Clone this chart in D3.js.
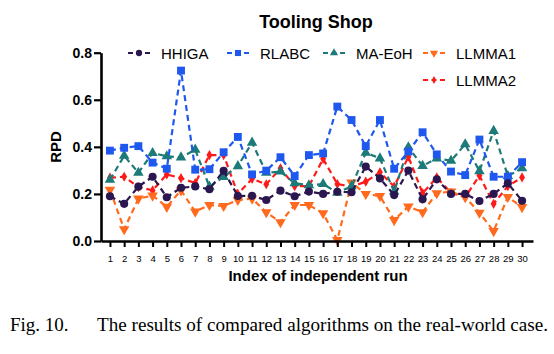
<!DOCTYPE html>
<html>
<head>
<meta charset="utf-8">
<script src="https://cdn.jsdelivr.net/npm/d3@7"></script>
<style>
	body { margin: 0; background: #fff; }
	svg { display: block; }
	text { font-family: Arial, "Liberation Sans", sans-serif; }
</style>
</head>
<body>
<div id="chart"></div>
<script>
// runs 1..30
var runs = d3.range(1, 31);

var hhiga  = [0.19, 0.158, 0.231, 0.273, 0.186, 0.226, 0.232, 0.22, 0.298, 0.191, 0.192, 0.174, 0.214, 0.19, 0.21, 0.2, 0.209, 0.207, 0.316, 0.266, 0.195, 0.299, 0.177, 0.262, 0.2, 0.2, 0.17, 0.2, 0.245, 0.171];
var rlabc  = [0.384, 0.396, 0.403, 0.333, 0.307, 0.724, 0.303, 0.305, 0.377, 0.442, 0.283, 0.299, 0.356, 0.276, 0.365, 0.372, 0.571, 0.514, 0.403, 0.514, 0.307, 0.38, 0.462, 0.368, 0.295, 0.28, 0.431, 0.273, 0.273, 0.335];
var maeoh  = [0.26, 0.362, 0.29, 0.374, 0.36, 0.355, 0.388, 0.231, 0.272, 0.318, 0.418, 0.29, 0.295, 0.245, 0.237, 0.242, 0.205, 0.232, 0.375, 0.351, 0.21, 0.398, 0.319, 0.351, 0.341, 0.411, 0.297, 0.468, 0.276, 0.309];
var llmma1 = [0.218, 0.05, 0.18, 0.193, 0.145, 0.215, 0.125, 0.153, 0.149, 0.174, 0.18, 0.122, 0.08, 0.153, 0.153, 0.118, 0.004, 0.248, 0.2, 0.191, 0.089, 0.146, 0.122, 0.203, 0.21, 0.186, 0.12, 0.042, 0.187, 0.144];
var llmma2 = [0.269, 0.273, 0.229, 0.215, 0.283, 0.267, 0.246, 0.365, 0.365, 0.2, 0.264, 0.241, 0.309, 0.233, 0.233, 0.349, 0.242, 0.231, 0.252, 0.292, 0.231, 0.358, 0.203, 0.27, 0.205, 0.186, 0.278, 0.158, 0.233, 0.27];

var seriesNames = ['HHIGA', 'RLABC', 'MA-EoH', 'LLMMA1', 'LLMMA2'];
var yTicks = [0, 0.2, 0.4, 0.6, 0.8];

var series = [
	{name: 'HHIGA',  values: hhiga,  color: '#2b1750', symbol: d3.symbolCircle,   size: 52, rot: 0},
	{name: 'RLABC',  values: rlabc,  color: '#1f58ee', symbol: d3.symbolSquare,   size: 62, rot: 0},
	{name: 'MA-EoH', values: maeoh,  color: '#1c7a78', symbol: d3.symbolTriangle, size: 48, rot: 0},
	{name: 'LLMMA1', values: llmma1, color: '#ff6a1f', symbol: d3.symbolTriangle, size: 48, rot: 180},
	{name: 'LLMMA2', values: llmma2, color: '#ff1a1a', symbol: d3.symbolDiamond,  size: 30, rot: 0}
];

var W = 554, H = 354;
var svg = d3.select('#chart').append('svg').attr('width', W).attr('height', H);

var x = d3.scaleLinear().domain([0.37, 30.77]).range([101, 533]);
var y = d3.scaleLinear().domain([0, 0.8]).range([241, 52.7]);

// title
svg.append('text')
	.attr('x', 316).attr('y', 28)
	.attr('text-anchor', 'middle')
	.style('font-size', '18px').style('font-weight', 'bold')
	.text('Tooling Shop');

// lines + markers (HHIGA drawn last so it sits on top)
var line = d3.line()
	.x(function(d, i) { return x(runs[i]); })
	.y(function(d) { return y(d); });

series.slice().reverse().forEach(function(s) {
	var g = svg.append('g');
	g.append('path')
		.attr('d', line(s.values))
		.attr('fill', 'none')
		.attr('stroke', s.color)
		.attr('stroke-width', 2.2)
		.attr('stroke-dasharray', '6,4');
	g.selectAll('path.pt')
		.data(s.values)
		.enter().append('path')
		.attr('class', 'pt')
		.attr('d', d3.symbol().type(s.symbol).size(s.size))
		.attr('fill', s.color)
		.attr('transform', function(d, i) {
			return 'translate(' + x(runs[i]) + ',' + y(d) + ') rotate(' + s.rot + ')';
		});
});

// axes
var yAxis = d3.axisLeft(y).tickValues(yTicks).tickFormat(d3.format('.1f')).tickSize(7).tickSizeOuter(0).tickPadding(2);
var xAxis = d3.axisBottom(x).tickValues(runs).tickSize(6).tickSizeOuter(0).tickPadding(8);

var gx = svg.append('g').attr('transform', 'translate(0,241)').call(xAxis);
gx.select('.domain').attr('stroke-width', 2.6);
gx.selectAll('.tick line').attr('stroke-width', 2);
gx.selectAll('.tick text').style('font-size', '9.5px').style('font-family', 'Arial, "Liberation Sans", sans-serif').attr('fill', '#000');

var gy = svg.append('g').attr('transform', 'translate(101,0)').call(yAxis);
gy.select('.domain').attr('stroke-width', 2.6);
gy.selectAll('.tick line').attr('stroke-width', 2.2);
gy.selectAll('.tick text').style('font-size', '14px').style('font-weight', 'bold').style('font-family', 'Arial, "Liberation Sans", sans-serif').attr('fill', '#000');

// axis titles
svg.append('text')
	.attr('transform', 'translate(61,147) rotate(-90)')
	.attr('text-anchor', 'middle')
	.style('font-size', '15px').style('font-weight', 'bold')
	.text('RPD');

svg.append('text')
	.attr('x', 318).attr('y', 281)
	.attr('text-anchor', 'middle')
	.style('font-size', '15px').style('font-weight', 'bold')
	.text('Index of independent run');

// legend
var legendPos = [
	{x: 128, y: 53}, {x: 227, y: 53}, {x: 323, y: 53}, {x: 423, y: 53}, {x: 423, y: 80}
];
series.forEach(function(s, i) {
	var p = legendPos[i];
	var lg = svg.append('g').attr('transform', 'translate(' + p.x + ',' + p.y + ')');
	lg.append('line')
		.attr('x1', 0).attr('x2', 22).attr('y1', 0).attr('y2', 0)
		.attr('stroke', s.color).attr('stroke-width', 2.2)
		.attr('stroke-dasharray', '5,3.5');
	lg.append('path')
		.attr('d', d3.symbol().type(s.symbol).size(s.size * 0.6))
		.attr('fill', s.color)
		.attr('transform', 'translate(11,0) rotate(' + s.rot + ')');
	lg.append('text')
		.attr('x', 33).attr('y', 5.5)
		.style('font-size', '15px')
		.text(seriesNames[i]);
});

// caption
svg.append('text')
	.attr('x', 10).attr('y', 331)
	.style('font-family', '"Liberation Serif", "Times New Roman", serif')
	.style('font-size', '19px')
	.text('Fig. 10.');
svg.append('text')
	.attr('x', 97).attr('y', 331)
	.style('font-family', '"Liberation Serif", "Times New Roman", serif')
	.style('font-size', '19px')
	.attr('textLength', 451)
	.attr('lengthAdjust', 'spacingAndGlyphs')
	.text('The results of compared algorithms on the real-world case.');
</script>
</body>
</html>
